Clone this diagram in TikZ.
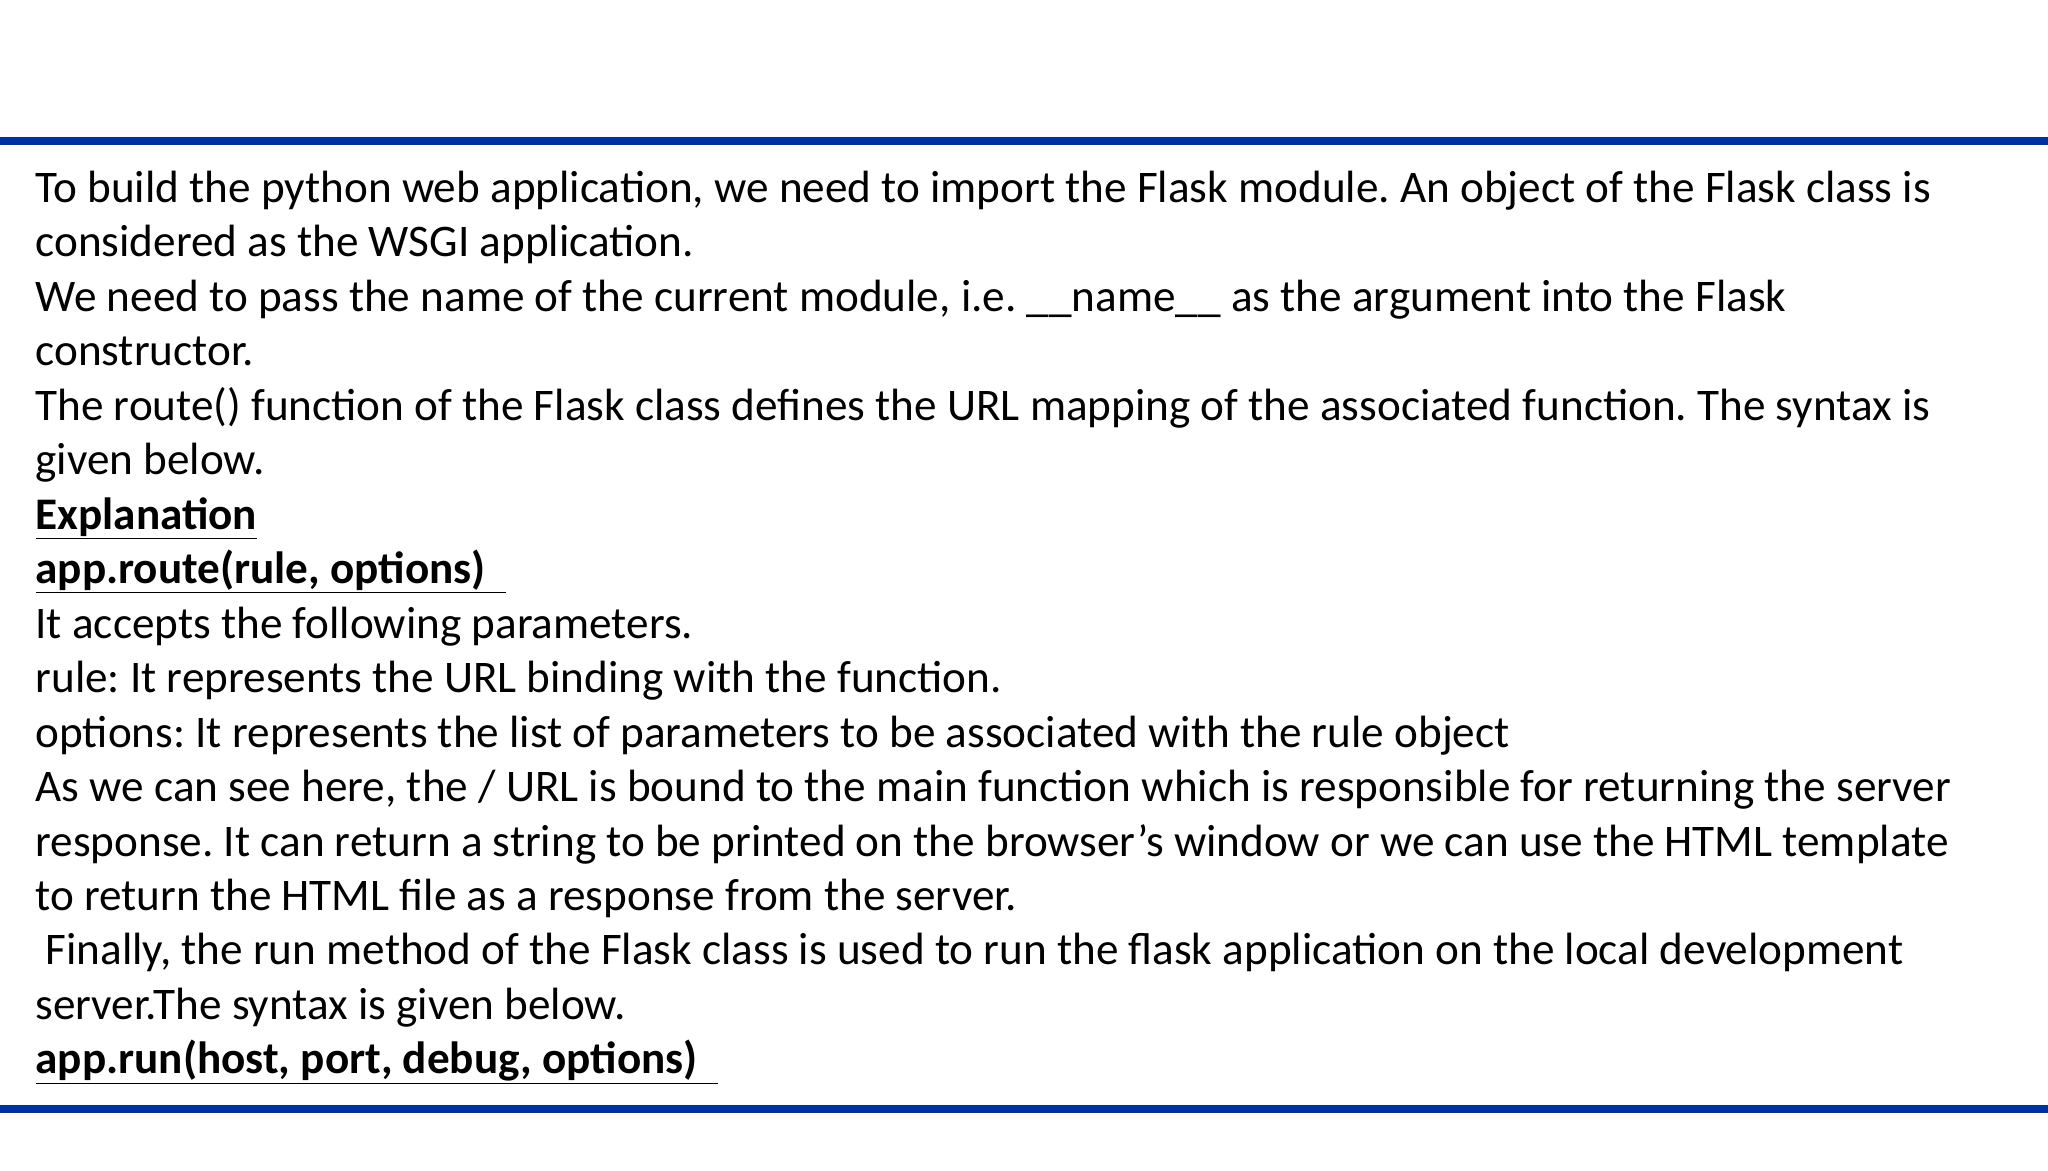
\documentclass[tikz,border=0pt]{standalone}
\usepackage{fontspec}
\setmainfont{Carlito}
\definecolor{barblue}{HTML}{003399}
\begin{document}
\frenchspacing
\begin{tikzpicture}[x=1pt,y=1pt,
  txt/.style={anchor=base west,inner sep=0pt,font=\fontsize{34.6}{40}\selectfont}]
\useasboundingbox (0,0) rectangle (1568,896);
\fill[barblue] (0,896-111) rectangle (1568,896-105);
\fill[barblue] (0,896-852) rectangle (1568,896-846);
\newcommand{\ul}[1]{\underline{#1}}
\foreach \i/\t in {
0/{To build the python web application, we need to import the Flask module. An object of the Flask class is},
1/{considered as the WSGI application.},
2/{We need to pass the name of the current module, i.e. \_\_name\_\_ as the argument into the Flask},
3/{constructor.},
4/{The route() function of the Flask class defines the URL mapping of the associated function. The syntax is},
5/{given below.},
6/{\textbf{\ul{Explanation}}},
7/{\textbf{\ul{app.route(rule, options)\ \ }}},
8/{It accepts the following parameters.},
9/{rule: It represents the URL binding with the function.},
10/{options: It represents the list of parameters to be associated with the rule object},
11/{As we can see here, the / URL is bound to the main function which is responsible for returning the server},
12/{response. It can return a string to be printed on the browser\symbol{39}s window or we can use the HTML template},
13/{to return the HTML file as a response from the server.},
14/{\ Finally, the run method of the Flask class is used to run the flask application on the local development},
15/{server.The syntax is given below.},
16/{\textbf{\ul{app.run(host, port, debug, options)\ \ }}}}
  \node[txt] (l\i) at (27,{896-155-41.7*\i}) {\t};
\end{tikzpicture}
\end{document}
